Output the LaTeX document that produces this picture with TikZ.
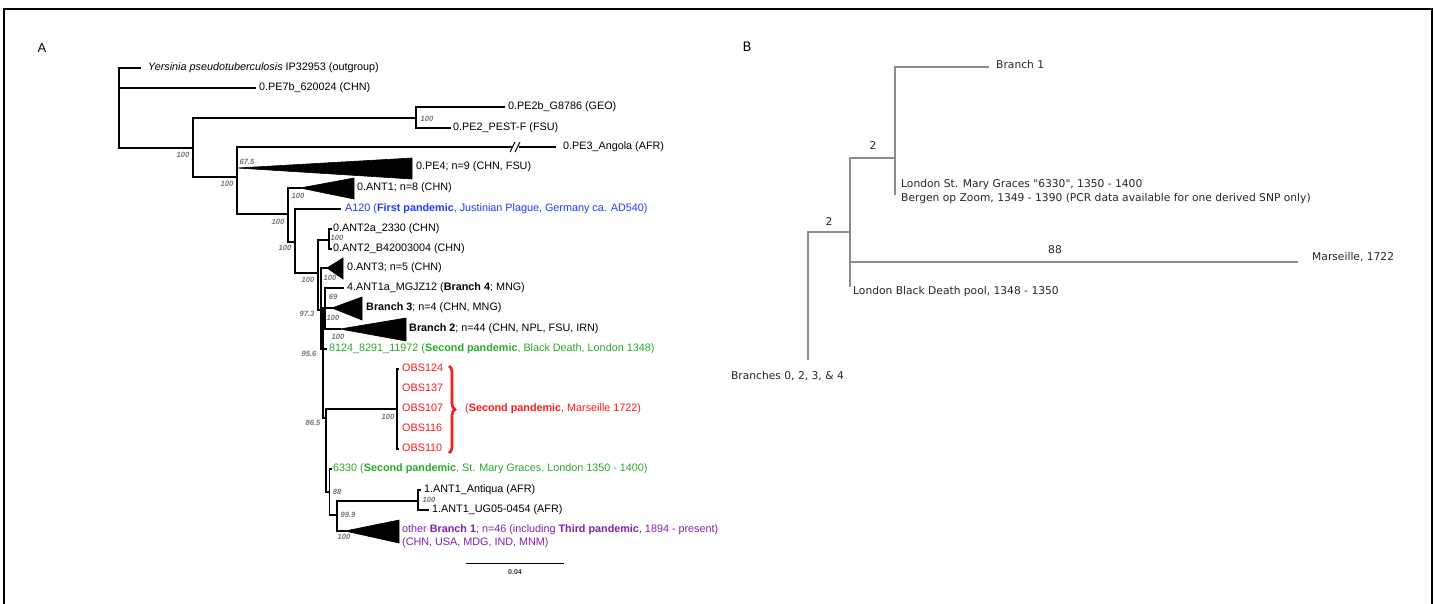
\documentclass[tikz,border=0pt]{standalone}
\usepackage{fontspec}
\setmainfont{Liberation Sans}
\newfontfamily\dvs{DejaVu Sans}
\usetikzlibrary{decorations.pathreplacing}
\definecolor{bsgrey}{RGB}{118,118,118}
\definecolor{ablue}{RGB}{30,60,245}
\definecolor{agreen}{RGB}{40,170,40}
\definecolor{ared}{RGB}{250,25,25}
\definecolor{apurple}{RGB}{135,30,175}
\definecolor{bline}{RGB}{140,140,140}
\tikzset{
  tree/.style={line width=1.4pt, line cap=rect},
  tip/.style={anchor=west, inner sep=0pt, font=\fontsize{10.8}{13}\selectfont, text height=7.8pt, text depth=2.3pt},
  bs/.style={inner sep=0pt, text=bsgrey, font=\bfseries\itshape\fontsize{7.6}{9}\selectfont},
  clade/.style={fill=black, draw=black, line width=0.6pt, line join=miter},
  btree/.style={draw=bline, line width=1.3pt},
  btext/.style={inner sep=0pt, font=\dvs\fontsize{10.7}{13}\selectfont, text=black!85, text height=8pt, text depth=2.4pt},
  panel/.style={inner sep=0pt, font=\fontsize{13}{15}\selectfont}
}
\begin{document}
\begin{tikzpicture}[x=1pt,y=-1pt]
\useasboundingbox (0,0) rectangle (1435,603);
\clip (0,0) rectangle (1435,603);
\fill[white] (0,0) rectangle (1435,603);
% frame
\coordinate (f1) at (4,615); \coordinate (f2) at (4,9);
\coordinate (f3) at (1432,9); \coordinate (f4) at (1432,615);
\draw[line width=1.2pt] (f1) -- (f2) -- (f3) -- (f4);

% ---------------- panel A ----------------
\node[panel] (labA) at (42,48) {A};
\coordinate (r) at (119,108);
\coordinate (yps) at (140,68);
\coordinate (pe7) at (255,88);
\coordinate (n0) at (193,148);
\draw[tree] (r) |- (yps);
\draw[tree] (r) |- (pe7);
\draw[tree] (r) |- (n0);
\coordinate (n2a) at (416,118);
\coordinate (pe2b) at (504,107);
\coordinate (pe2) at (450,128);
\draw[tree] (n0) |- (n2a);
\draw[tree] (n2a) |- (pe2b);
\draw[tree] (n2a) |- (pe2);
\coordinate (n1) at (237,177);
\draw[tree] (n0) |- (n1);
\coordinate (pe3a) at (512,147);
\coordinate (pe3b) at (520,147);
\coordinate (pe3) at (555,147);
\draw[tree] (n1) |- (pe3a);
\draw[tree] (pe3b) -- (pe3);
\coordinate (sl1a) at (510,152); \coordinate (sl1b) at (515,142);
\coordinate (sl2a) at (515,152); \coordinate (sl2b) at (520,142);
\draw[line width=1.1pt] (sl1a) -- (sl1b);
\draw[line width=1.1pt] (sl2a) -- (sl2b);
\coordinate (pe4) at (237,168);
\draw[tree] (n1) |- (pe4);
\draw[clade] (pe4) -- (412,158) -- (412,179) -- cycle;
\coordinate (n2) at (288,214);
\draw[tree] (n1) |- (n2);
\coordinate (ant1) at (300,188);
\draw[tree] (n2) |- (ant1);
\draw[clade] (ant1) -- (354,178) -- (354,199) -- cycle;
\coordinate (n3) at (295,242);
\draw[tree] (n2) |- (n3);
\coordinate (a120) at (340,209);
\draw[tree] (n3) |- (a120);
\coordinate (n4) at (318,273);
\draw[tree] (n3) |- (n4);
\coordinate (nant2) at (329,240);
\draw[tree] (n4) |- (nant2);
\coordinate (ant2a) at (331,229);
\coordinate (ant2b) at (331,249);
\draw[tree] (nant2) |- (ant2a);
\draw[tree] (nant2) |- (ant2b);
\coordinate (n5) at (321,310);
\draw[tree] (n4) |- (n5);
\coordinate (ant3) at (327,268);
\draw[tree] (n5) |- (ant3);
\draw[clade] (ant3) -- (343,258) -- (343,279) -- cycle;
\coordinate (n6) at (323,349);
\draw[tree] (n5) |- (n6);
\coordinate (nb) at (325,308);
\draw[tree] (n6) |- (nb);
\coordinate (b4) at (343,288);
\draw[tree] (nb) |- (b4);
\coordinate (b3) at (332,308);
\draw[tree] (nb) |- (b3);
\draw[clade] (b3) -- (362,297) -- (362,320) -- cycle;
\coordinate (b2) at (340,329);
\draw[tree] (nb) |- (b2);
\draw[clade] (b2) -- (406,318) -- (406,341) -- cycle;
\coordinate (bd) at (326,349);
\draw[tree] (n6) -- (bd);
\coordinate (n7) at (326,418);
\draw[tree] (n6) |- (n7);
\coordinate (nm) at (397,409);
\draw[tree] (n7) |- (nm);
\coordinate (o1) at (398,369);
\coordinate (o5) at (398,449);
\draw[tree] (nm) |- (o1);
\draw[tree] (nm) |- (o5);
\coordinate (n8) at (329.5,492);
\draw[tree] (n7) |- (n8);
\coordinate (s63) at (331,469);
\draw[tree] (n8) |- (s63);
\coordinate (n9) at (337,515);
\draw[tree] (n8) |- (n9);
\coordinate (nan1) at (418,501);
\draw[tree] (n9) |- (nan1);
\coordinate (antq) at (420,490);
\coordinate (ug) at (428,510);
\draw[tree] (nan1) |- (antq);
\draw[tree] (nan1) |- (ug);
\coordinate (b1) at (345,531);
\draw[tree] (n9) |- (b1);
\draw[clade] (b1) -- (399,520) -- (399,543) -- cycle;

% tip labels
\node[tip] (typs) at (148,68) {\itshape Yersinia pseudotuberculosis\upshape{} IP32953 (outgroup)};
\node[tip] (tpe7) at (259,88) {0.PE7b\_620024 (CHN)};
\node[tip] (tpe2b) at (508,107) {0.PE2b\_G8786 (GEO)};
\node[tip] (tpe2) at (453,128) {0.PE2\_PEST-F (FSU)};
\node[tip] (tpe3) at (563,147) {0.PE3\_Angola (AFR)};
\node[tip] (tpe4) at (416,167) {0.PE4; n=9 (CHN, FSU)};
\node[tip] (tant1) at (357,188) {0.ANT1; n=8 (CHN)};
\node[tip, text=ablue] (ta120) at (345,209) {A120 (\textbf{First pandemic}, Justinian Plague, Germany ca. AD540)};
\node[tip] (tant2a) at (333,229) {0.ANT2a\_2330 (CHN)};
\node[tip] (tant2b) at (333,249) {0.ANT2\_B42003004 (CHN)};
\node[tip] (tant3) at (347,268) {0.ANT3; n=5 (CHN)};
\node[tip] (tb4) at (347,288) {4.ANT1a\_MGJZ12 (\textbf{Branch 4}; MNG)};
\node[tip] (tb3) at (366,308) {\textbf{Branch 3}; n=4 (CHN, MNG)};
\node[tip] (tb2) at (409,329) {\textbf{Branch 2}; n=44 (CHN, NPL, FSU, IRN)};
\node[tip, text=agreen] (tbd) at (329,349) {8124\_8291\_11972 (\textbf{Second pandemic}, Black Death, London 1348)};
\node[tip, text=ared] (to1) at (402,369) {OBS124};
\node[tip, text=ared] (to2) at (402,389) {OBS137};
\node[tip, text=ared] (to3) at (402,409) {OBS107};
\node[tip, text=ared] (to4) at (402,429) {OBS116};
\node[tip, text=ared] (to5) at (402,449) {OBS110};
\coordinate (brt) at (449,366);
\coordinate (brb) at (449,453);
\draw[ared, line width=2.6pt, decorate, decoration={brace, amplitude=6pt}] (brt) -- (brb);
\node[tip, text=ared] (tmars) at (465,409) {(\textbf{Second pandemic}, Marseille 1722)};
\node[tip, text=agreen] (t6330) at (333,469) {6330 (\textbf{Second pandemic}, St. Mary Graces, London 1350 - 1400)};
\node[tip] (tantq) at (424,490) {1.ANT1\_Antiqua (AFR)};
\node[tip] (tug) at (432,510) {1.ANT1\_UG05-0454 (AFR)};
\node[tip, text=apurple] (tb1) at (402,530) {other \textbf{Branch 1}; n=46 (including \textbf{Third pandemic}, 1894 - present)};
\node[tip, text=apurple] (tb1b) at (402,543) {(CHN, USA, MDG, IND, MNM)};

% support values
\node[bs] (s1) at (183,155) {100};
\node[bs] (s2) at (427,119) {100};
\node[bs] (s3) at (247,162) {67.5};
\node[bs] (s4) at (227,184) {100};
\node[bs] (s5) at (298,196) {100};
\node[bs] (s6) at (278,222) {100};
\node[bs] (s7) at (285,248) {100};
\node[bs] (s8) at (337,238) {100};
\node[bs] (s9) at (308,280) {100};
\node[bs] (s10) at (330,278) {100};
\node[bs] (s11) at (307,314) {97.3};
\node[bs] (s12) at (333,297) {69};
\node[bs] (s13) at (333,318) {100};
\node[bs] (s14) at (338,337) {100};
\node[bs] (s15) at (309,354) {95.6};
\node[bs] (s16) at (388,417) {100};
\node[bs] (s17) at (313,423) {86.5};
\node[bs] (s18) at (337,492) {88};
\node[bs] (s19) at (429,500) {100};
\node[bs] (s20) at (348,515) {99.9};
\node[bs] (s21) at (344,537) {100};

% scale bar
\coordinate (sb1) at (466,563);
\coordinate (sb2) at (564,563);
\draw[line width=1pt] (sb1) -- (sb2);
\node[inner sep=0pt, font=\bfseries\fontsize{7}{8}\selectfont, text=black!80] (sbl) at (515,572) {0.04};

% ---------------- panel B ----------------
\node[inner sep=0pt, font=\dvs\fontsize{13}{15}\selectfont] (labB) at (747,47) {B};
\coordinate (broot) at (808,360);
\coordinate (bn1) at (850,232);
\coordinate (bn2) at (895,158);
\coordinate (bmar) at (1298,262);
\coordinate (bbd) at (850,287);
\coordinate (bb1) at (989,67);
\coordinate (bsm) at (895,195);
\draw[btree] (broot) |- (bn1);
\draw[btree] (bn1) |- (bn2);
\draw[btree] (bn1) -- (bbd);
\draw[btree] (bn2) |- (bb1);
\draw[btree] (bn2) -- (bsm);
\draw[btree, line width=2.2pt] (bn1 |- bmar) -- (bmar);
\node[btext, anchor=west] (tbb1) at (996,66) {Branch 1};
\node[btext] (tb2a) at (873,147) {2};
\node[btext, anchor=west] (tbsm) at (901,185) {London St. Mary Graces "6330", 1350 - 1400};
\node[btext, anchor=west] (tbbg) at (901,199) {Bergen op Zoom, 1349 - 1390 (PCR data available for one derived SNP only)};
\node[btext] (tb2b) at (829,223) {2};
\node[btext] (tb88) at (1055,251) {88};
\node[btext, anchor=west] (tbmar) at (1312,258) {Marseille, 1722};
\node[btext, anchor=west] (tbbd) at (853,292) {London Black Death pool, 1348 - 1350};
\node[btext, anchor=east] (tbroot) at (844,377) {Branches 0, 2, 3, \& 4};
\end{tikzpicture}
\end{document}
